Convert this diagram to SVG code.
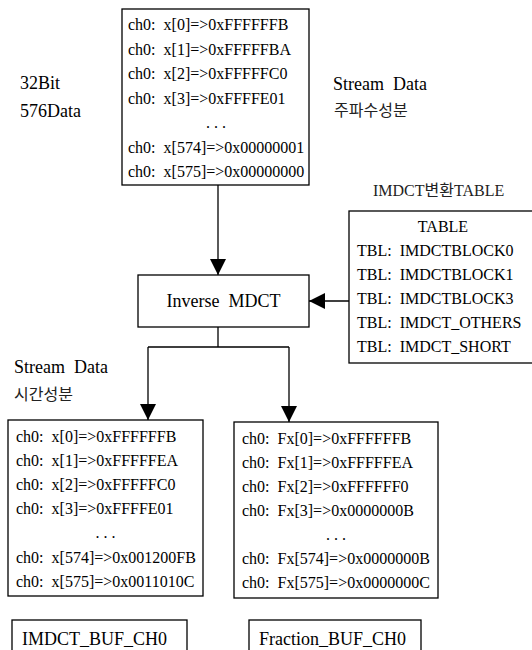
<svg xmlns="http://www.w3.org/2000/svg" width="532" height="650" viewBox="0 0 532 650" xml:space="preserve">
<style>
  .box { fill: #ffffff; stroke: #000000; stroke-width: 1.3; }
  text { white-space: pre; }
  .t { font-family: "Liberation Serif", "Times New Roman", serif; font-size: 16px; fill: #000000; }
  .lbl { font-family: "Liberation Serif", "Times New Roman", serif; font-size: 18px; fill: #000000; }
  .kr { font-family: "Liberation Serif", "Noto Sans CJK KR", serif; font-size: 16px; fill: #222222; }
  .mid { text-anchor: middle; }
  .conn { fill: none; stroke: #000000; stroke-width: 1.3; }
</style>
<defs>
  <marker id="arrow" markerUnits="userSpaceOnUse" markerWidth="16" markerHeight="16" refX="16" refY="8" orient="auto">
    <path d="M0,0 L16,8 L0,16 Z" fill="#000000"/>
  </marker>
</defs>
<rect width="532" height="650" fill="#ffffff"/>

<g id="side-labels">
  <text class="lbl" x="20" y="89">32Bit</text>
  <text class="lbl" x="20" y="117">576Data</text>
  <text class="lbl" x="333" y="90">Stream  Data</text>
  <text class="kr" x="334" y="116">주파수성분</text>
  <text class="kr" x="373" y="196">IMDCT변환TABLE</text>
  <text class="lbl" x="14" y="373">Stream  Data</text>
  <text class="kr" x="14" y="400">시간성분</text>
</g>

<g id="stream-freq">
  <rect class="box" x="122" y="9" width="187" height="176"/>
  <text class="t" x="128" y="30">ch0:  x[0]=&gt;0xFFFFFFB</text>
  <text class="t" x="128" y="54.5">ch0:  x[1]=&gt;0xFFFFFBA</text>
  <text class="t" x="128" y="79">ch0:  x[2]=&gt;0xFFFFFC0</text>
  <text class="t" x="128" y="103.5">ch0:  x[3]=&gt;0xFFFFE01</text>
  <text class="t mid" x="216" y="128">. . .</text>
  <text class="t" x="128" y="152.5">ch0:  x[574]=&gt;0x00000001</text>
  <text class="t" x="128" y="177">ch0:  x[575]=&gt;0x00000000</text>
</g>

<g id="inverse-mdct">
  <rect class="box" x="138" y="275" width="171" height="52"/>
  <text class="lbl mid" x="223.5" y="307">Inverse  MDCT</text>
</g>

<g id="table">
  <rect class="box" x="349" y="211" width="190" height="152"/>
  <text class="t mid" x="443" y="232">TABLE</text>
  <text class="t" x="357" y="256">TBL:  IMDCTBLOCK0</text>
  <text class="t" x="357" y="280">TBL:  IMDCTBLOCK1</text>
  <text class="t" x="357" y="304">TBL:  IMDCTBLOCK3</text>
  <text class="t" x="357" y="328">TBL:  IMDCT_OTHERS</text>
  <text class="t" x="357" y="352">TBL:  IMDCT_SHORT</text>
</g>

<g id="imdct-buf">
  <rect class="box" x="8" y="420" width="195" height="176"/>
  <text class="t" x="16" y="442">ch0:  x[0]=&gt;0xFFFFFFB</text>
  <text class="t" x="16" y="466">ch0:  x[1]=&gt;0xFFFFFEA</text>
  <text class="t" x="16" y="490">ch0:  x[2]=&gt;0xFFFFFC0</text>
  <text class="t" x="16" y="514">ch0:  x[3]=&gt;0xFFFFE01</text>
  <text class="t mid" x="105.5" y="538">. . .</text>
  <text class="t" x="16" y="563">ch0:  x[574]=&gt;0x001200FB</text>
  <text class="t" x="16" y="587">ch0:  x[575]=&gt;0x0011010C</text>
</g>

<g id="fraction-buf">
  <rect class="box" x="234" y="422" width="204" height="176"/>
  <text class="t" x="242" y="444">ch0:  Fx[0]=&gt;0xFFFFFFB</text>
  <text class="t" x="242" y="468">ch0:  Fx[1]=&gt;0xFFFFFEA</text>
  <text class="t" x="242" y="492">ch0:  Fx[2]=&gt;0xFFFFFF0</text>
  <text class="t" x="242" y="516">ch0:  Fx[3]=&gt;0x0000000B</text>
  <text class="t mid" x="336" y="540">. . .</text>
  <text class="t" x="242" y="564">ch0:  Fx[574]=&gt;0x0000000B</text>
  <text class="t" x="242" y="588">ch0:  Fx[575]=&gt;0x0000000C</text>
</g>

<g id="imdct-buf-label">
  <rect class="box" x="12" y="620" width="175" height="40"/>
  <text class="lbl" x="22" y="645">IMDCT_BUF_CH0</text>
</g>

<g id="fraction-buf-label">
  <rect class="box" x="249" y="620" width="172" height="40"/>
  <text class="lbl" x="259" y="645">Fraction_BUF_CH0</text>
</g>

<g id="connectors">
  <path class="conn" d="M218,185 V275" marker-end="url(#arrow)"/>
  <path class="conn" d="M349,301 H309" marker-end="url(#arrow)"/>
  <path class="conn" d="M218,327 V347 M148,347 H289"/>
  <path class="conn" d="M148,347 V420" marker-end="url(#arrow)"/>
  <path class="conn" d="M289,347 V422" marker-end="url(#arrow)"/>
</g>
</svg>
